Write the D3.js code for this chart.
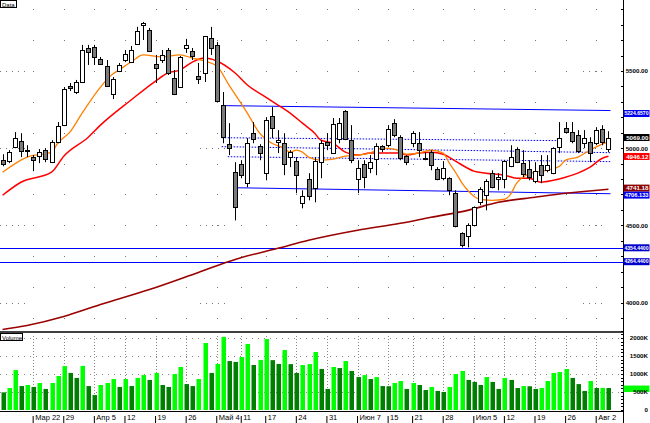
<!DOCTYPE html>
<html><head><meta charset="utf-8">
<script src="https://cdn.jsdelivr.net/npm/d3@7"></script>
<style>body{margin:0;background:#fff;}svg{display:block;}text{font-family:"Liberation Sans",Arial,sans-serif;}</style>
</head><body><svg id="c" width="650" height="423"></svg>
<script>
// ---- data ----
const dates = [
"03-15","03-16","03-17","03-18","03-19","03-22","03-23","03-24","03-25","03-26",
"03-29","03-30","03-31","04-01","04-02","04-05","04-06","04-07","04-08","04-09",
"04-12","04-13","04-14","04-15","04-16","04-19","04-20","04-21","04-22","04-23",
"04-26","04-27","04-28","04-29","04-30","05-04","05-05","05-06","05-07","05-11",
"05-12","05-13","05-14","05-17","05-18","05-19","05-20","05-21","05-24","05-25",
"05-26","05-27","05-28","05-31","06-01","06-02","06-03","06-04","06-07","06-08",
"06-09","06-10","06-11","06-15","06-16","06-17","06-18","06-21","06-22","06-23",
"06-24","06-25","06-28","06-29","06-30","07-01","07-02","07-05","07-06","07-07",
"07-08","07-09","07-12","07-13","07-14","07-15","07-16","07-19","07-20","07-21",
"07-22","07-23","07-26","07-27","07-28","07-29","07-30","08-02","08-03","08-04"];
const opens = [
4922,4916,5006,5045,4990,4942,4948,4987,4909,5039,
5149,5403,5364,5429,5649,5656,5578,5532,5351,5500,
5571,5558,5675,5799,5766,5545,5571,5636,5455,5396,
5649,5630,5467,5487,5714,5669,5279,5026,4844,4896,
4773,5097,5013,4838,5208,5039,5032,4942,4916,4643,
4799,4740,4909,5039,4968,5058,5240,5052,4799,4896,
4870,4929,5013,5019,5162,5071,4948,5032,5032,4938,
4974,4864,4805,4805,4708,4448,4429,4500,4649,4695,
4838,4799,4799,4883,4994,4903,4864,4786,4890,4857,
4838,5006,5130,5104,5084,5032,5039,5032,5123,5000];
const highs = [
4961,4987,5104,5097,5019,4955,4994,5000,5052,5169,
5396,5422,5442,5669,5669,5669,5591,5571,5461,5552,
5636,5662,5786,5818,5779,5604,5636,5649,5506,5597,
5708,5649,5552,5727,5786,5688,5364,5162,4909,4922,
5065,5169,5026,5201,5266,5117,5097,4987,4942,4727,
4838,4942,5052,5097,5195,5195,5247,5149,4922,4922,
4955,5032,5019,5149,5188,5084,4955,5110,5104,4974,
4987,4877,4916,4812,4727,4455,4513,4623,4747,4799,
4857,4838,4922,5019,5006,4987,4922,4909,4955,4955,
5006,5169,5169,5169,5117,5117,5071,5136,5149,5110];
const lows = [
4883,4903,5000,4942,4942,4851,4903,4909,4903,5032,
5143,5370,5351,5422,5539,5539,5539,5396,5318,5493,
5558,5552,5669,5701,5623,5422,5552,5474,5344,5390,
5617,5571,5416,5429,5604,5299,5032,4955,4532,4805,
4747,5032,4922,4792,5065,4968,4825,4877,4708,4610,
4662,4649,4805,4987,4968,5032,5052,4903,4708,4740,
4838,4825,4974,5006,5071,4922,4890,5006,4942,4922,
4857,4792,4792,4695,4487,4357,4357,4493,4630,4597,
4740,4727,4740,4877,4903,4812,4792,4773,4773,4844,
4831,4968,5097,5032,4968,5000,4909,5019,5019,4974];
const closes = [
4896,4974,5065,4981,4985,4922,4974,4929,5039,5143,
5383,5390,5429,5636,5623,5591,5545,5403,5448,5539,
5610,5636,5760,5812,5630,5519,5604,5487,5351,5591,
5669,5597,5448,5727,5649,5305,5071,5000,4617,4825,
5032,5058,4968,5182,5130,5052,4896,4974,4825,4688,
4688,4916,5032,5019,5156,5162,5058,4922,4870,4812,
4909,5013,4994,5123,5084,4935,4909,5097,4987,4935,
4890,4799,4870,4727,4493,4370,4500,4617,4734,4786,
4747,4812,4916,4942,4909,4831,4812,4851,4825,4890,
5000,5065,5104,5045,4981,5065,4968,5117,5039,5069];
const volumes = [ // thousands
490,610,1110,665,695,640,750,585,750,945,
1220,1030,890,1225,665,415,695,750,860,640,
860,665,890,970,835,1030,695,640,1000,1195,
720,665,860,1860,1030,1280,2030,1360,1335,1470,
1835,1250,1390,1970,1385,1280,1665,1275,1030,1250,
1275,1610,1140,585,1195,1165,1360,1085,915,970,
860,915,665,660,750,805,585,750,695,555,
640,530,500,640,1000,1085,835,780,695,915,
780,585,890,835,610,665,660,585,610,805,
1030,1055,1140,890,720,530,805,610,615,610];
// moving averages (index, value)
const fastIdx = [0,4,8,9,11,13,16,18,19,21,23,26,29,31,33,35,37,40,42,44,46,47,48,49,50,52,54,56,58,60,62,64,66,68,70,72,73,74,75,76,77,78,80,82,83,84,85,87,89,91,92,94,96,98,99];
const fastVal = [4844,4942,4974,5032,5104,5227,5396,5480,5506,5558,5604,5591,5604,5584,5565,5532,5409,5227,5097,5032,5000,4974,4987,4974,4942,4922,4929,4948,4955,4968,5000,4994,4961,4968,4987,4968,4903,4844,4779,4727,4688,4669,4662,4669,4701,4773,4812,4844,4857,4883,4922,4942,4987,5026,5039];
const slowIdx = [0,3,8,10,14,16,21,25,27,29,31,33,35,38,40,43,45,47,49,51,52,54,56,58,60,63,65,66,68,70,72,74,76,77,79,82,84,86,88,90,92,94,96,98,99];
const slowVal = [4695,4779,4844,4948,5071,5149,5312,5435,5487,5506,5558,5584,5565,5487,5409,5331,5279,5227,5162,5097,5052,5032,4974,4955,4968,4968,4968,4955,4968,4974,4961,4916,4870,4851,4838,4825,4805,4805,4779,4792,4812,4838,4877,4935,4948];
const longIdx = [0,4,10,16,24,32,38,45,50,58,65,70,76,81,87,92,99];
const longVal = [3825,3851,3909,3987,4084,4195,4279,4351,4403,4468,4513,4552,4597,4649,4682,4708,4734];
// drawn trend lines: start index, start price, end index, end price
const trendStartIdx = [35.8, 37.7, 35.8, 35.8, 36.8];
const trendStartVal = [5279, 4747, 5071, 5013, 4948];
const trendEndIdx   = [99, 99, 90.8, 99, 99];
const trendEndVal   = [5247, 4708, 5052, 4974, 4916];
const trendDotted   = [false, false, true, true, true];
const hLevels = [4354.44, 4264.44];
// right-side value tags
const tagValues = [5224.657, 5069, 4946.12, 4741.18, 4706.133, 4354.44, 4264.44];
const tagTexts  = ["5224.6570","5069.00","4946.12","4741.18","4706.133","4354.4400","4264.4400"];
const tagColors = ["#0000ee","#000000","#ff0000","#8b0000","#0000ee","#0000cc","#0000cc"];
const priceTicks = [4000, 4500, 5000, 5500];
const volTicks = [500, 1000, 1500, 2000];
const volTickTexts = ["500K","1000K","1500K","2000K"];
const tickDates = ["03-22","03-29","04-05","04-12","04-19","04-26","05-04","05-11","05-17","05-24","05-31","06-07","06-15","06-21","06-28","07-05","07-12","07-19","07-26","08-02"];
const tickLabels = ["Мар 22","29","Апр 5","12","19","26","Май 4","11","17","24","31","Июн 7","15","21","28","Июл 5","12","19","26","Авг 2"];

// ---- drawing ----
const svg = d3.select("#c");
const W = 623;
const FONT = '"Liberation Sans",Arial,sans-serif';
const x = d3.scaleBand().domain(dates).range([-0.5, 611.5]);
const xc = i => x(dates[i]) + x.bandwidth() / 2;
const xi = d3.scaleLinear().domain([0, dates.length - 1]).range([xc(0), xc(dates.length - 1)]);
const y = d3.scaleLinear().domain([4000, 5500]).range([302.5, 71]);
const yv = d3.scaleLinear().domain([0, 2000]).range([410, 338]);

svg.append("rect").attr("width", 650).attr("height", 423).attr("fill", "#fff");
const defs = svg.append("defs");
defs.append("clipPath").attr("id", "pc").append("rect").attr("x", 0).attr("y", 0).attr("width", W).attr("height", 331);

// grid
const gGrid = svg.append("g");
const dotLevels = d3.range(3900, 6000, 200);
tickDates.forEach(d => {
  const cx = Math.round(x(d) + x.bandwidth() / 2);
  dotLevels.forEach(p => {
    gGrid.append("rect").attr("x", cx).attr("y", Math.round(y(p))).attr("width", 1).attr("height", 1).attr("fill", "#777");
  });
  gGrid.append("line").attr("x1", cx + 0.5).attr("x2", cx + 0.5).attr("y1", 336).attr("y2", 410)
    .attr("stroke", "#888").attr("stroke-dasharray", "1,2");
});
const denseRanges = [[0, 27], [200, 228], [583, 601]];
priceTicks.forEach(p => {
  denseRanges.forEach(r => {
    for (let xx = r[0]; xx <= r[1]; xx += 6)
      gGrid.append("rect").attr("x", xx).attr("y", Math.round(y(p))).attr("width", 1).attr("height", 1).attr("fill", "#777");
  });
});
volTicks.forEach(v => {
  gGrid.append("line").attr("x1", 0).attr("x2", W).attr("y1", Math.round(yv(v)) + 0.5).attr("y2", Math.round(yv(v)) + 0.5)
    .attr("stroke", "#888").attr("stroke-dasharray", "1,5");
});

// price pane contents
const gP = svg.append("g").attr("clip-path", "url(#pc)");
hLevels.forEach(v => {
  gP.append("line").attr("x1", 0).attr("x2", W).attr("y1", Math.round(y(v)) + 0.5).attr("y2", Math.round(y(v)) + 0.5)
    .attr("stroke", "#0000ff").attr("stroke-width", 1);
});
trendStartIdx.forEach((s, k) => {
  gP.append("line").attr("x1", xi(s)).attr("y1", y(trendStartVal[k]) + 0.5)
    .attr("x2", xi(trendEndIdx[k]) + 2).attr("y2", y(trendEndVal[k]) + 0.5)
    .attr("stroke", "#0000ff").attr("stroke-width", 1)
    .attr("stroke-dasharray", trendDotted[k] ? "1.5,1.5" : null);
});
const line = d3.line().x(d => xi(d[0])).y(d => y(d[1])).curve(d3.curveMonotoneX);
gP.append("path").attr("d", line(longIdx.map((d, k) => [d, longVal[k]])))
  .attr("fill", "none").attr("stroke", "#990000").attr("stroke-width", 1.6);
gP.append("path").attr("d", line(slowIdx.map((d, k) => [d, slowVal[k]])))
  .attr("fill", "none").attr("stroke", "#ff0000").attr("stroke-width", 1.5);
gP.append("path").attr("d", line(fastIdx.map((d, k) => [d, fastVal[k]])))
  .attr("fill", "none").attr("stroke", "#ff8000").attr("stroke-width", 1.3);

// candles
const candles = gP.append("g");
dates.forEach((d, i) => {
  const cx = Math.round(xc(i));
  candles.append("line").attr("x1", cx + 0.5).attr("x2", cx + 0.5)
    .attr("y1", y(highs[i])).attr("y2", y(lows[i])).attr("stroke", "#000").attr("stroke-width", 1);
  const top = y(Math.max(opens[i], closes[i])), bot = y(Math.min(opens[i], closes[i]));
  const up = closes[i] >= opens[i];
  candles.append("rect").attr("x", cx - 1.5).attr("y", Math.round(top) + 0.5)
    .attr("width", 4).attr("height", Math.max(1, Math.round(bot - top)))
    .attr("fill", up ? "#ffffff" : "#7a7a7a").attr("stroke", "#000").attr("stroke-width", 1);
});

// volume bars
const gV = svg.append("g");
dates.forEach((d, i) => {
  const cx = Math.round(xc(i));
  const rising = i > 0 && volumes[i] > volumes[i - 1];
  gV.append("rect").attr("x", cx - 1.5).attr("y", yv(volumes[i])).attr("width", 4.5)
    .attr("height", yv(0) - yv(volumes[i])).attr("fill", rising ? "#00ff00" : "#008000");
});

// frames
svg.append("line").attr("x1", 0).attr("x2", W).attr("y1", 332).attr("y2", 332).attr("stroke", "#000").attr("stroke-width", 1.6);
svg.append("line").attr("x1", 0).attr("x2", W).attr("y1", 411.5).attr("y2", 411.5).attr("stroke", "#000");
svg.append("line").attr("x1", W + 0.5).attr("x2", W + 0.5).attr("y1", 0).attr("y2", 423).attr("stroke", "#000");

// right axis ticks
const gR = svg.append("g").attr("transform", `translate(${W},0)`);
d3.range(3900, 6000, 100).forEach(p => {
  gR.append("line").attr("x1", -2).attr("x2", 0).attr("y1", Math.round(y(p)) + 0.5).attr("y2", Math.round(y(p)) + 0.5).attr("stroke", "#000");
});
d3.range(0, 2300, 100).forEach(v => {
  gR.append("line").attr("x1", -2).attr("x2", 0).attr("y1", Math.round(yv(v)) + 0.5).attr("y2", Math.round(yv(v)) + 0.5).attr("stroke", "#000");
});
const ay = gR.append("g").call(d3.axisRight(y).tickValues(priceTicks).tickSize(0).tickFormat(d3.format(".2f")));
ay.select(".domain").remove();
ay.selectAll("text").attr("x", 25).attr("text-anchor", "end").attr("dy", "0.32em")
  .style("font-size", "6.2px").style("font-weight", "bold").style("font-family", FONT);
// volume last-value tag
gR.append("rect").attr("x", 0.5).attr("y", yv(volumes[volumes.length - 1]) - 2.5).attr("width", 26).attr("height", 6.5).attr("fill", "#00ff00");
const av = gR.append("g").call(d3.axisRight(yv).tickValues(volTicks).tickSize(0).tickFormat((d, i) => volTickTexts[i]));
av.select(".domain").remove();
av.selectAll("text").attr("x", 25).attr("text-anchor", "end").attr("dy", "0.32em")
  .style("font-size", "6.2px").style("font-weight", "bold").style("font-family", FONT);
gR.append("text").attr("x", 25).attr("y", yv(0)).attr("dy", "0.32em").attr("text-anchor", "end")
  .style("font-size", "6.2px").style("font-weight", "bold").text("0");

// value tags (stacked so neighbours do not overlap)
const tagPos = tagValues.map((v, k) => ({k, yy: y(v)})).sort((a, b) => a.yy - b.yy);
for (let j = 1; j < tagPos.length; j++) {
  if (tagPos[j].yy - tagPos[j - 1].yy < 7) tagPos[j].yy = tagPos[j - 1].yy + 7;
}
tagPos.forEach(({k, yy}) => {
  const n = tagTexts[k].length;
  const fs = n >= 9 ? 5.1 : (n === 8 ? 5.7 : 6.2);
  gR.append("rect").attr("x", 0.5).attr("y", yy - 3.5).attr("width", 26).attr("height", 7).attr("fill", tagColors[k]);
  gR.append("text").attr("x", 25.5).attr("y", yy).attr("dy", "0.34em").attr("text-anchor", "end")
    .style("font-size", fs + "px").style("font-weight", "bold").style("font-family", FONT)
    .attr("fill", "#fff").text(tagTexts[k]);
});

// x axis
const ax = svg.append("g").attr("transform", "translate(0,411)")
  .call(d3.axisBottom(x).tickValues(tickDates).tickSize(0).tickFormat((d, i) => tickLabels[i]));
ax.select(".domain").remove();
ax.selectAll(".tick line").attr("y1", 5).attr("y2", 12).attr("stroke", "#000");
ax.selectAll(".tick text").attr("x", 2).attr("y", 4).attr("dy", "0.71em").attr("text-anchor", "start")
  .style("font-size", "7.5px").style("font-family", FONT).attr("fill", "#000");

// pane captions
svg.append("rect").attr("x", 0.5).attr("y", 0.5).attr("width", 16).attr("height", 7).attr("fill", "#fff").attr("stroke", "#000");
svg.append("text").attr("x", 2).attr("y", 6.5).style("font-size", "6px").text("Data");
svg.append("rect").attr("x", 0.5).attr("y", 333.5).attr("width", 22).attr("height", 7).attr("fill", "#fff").attr("stroke", "#000");
svg.append("text").attr("x", 2).attr("y", 339.5).style("font-size", "6px").text("Volume");
</script></body></html>
